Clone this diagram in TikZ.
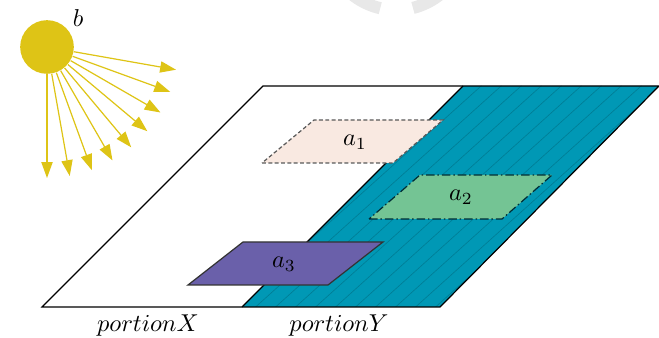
\documentclass[tikz,border=0pt]{standalone}
\usetikzlibrary{arrows.meta}
\definecolor{sunyellow}{RGB}{222,196,22}
\definecolor{teal}{RGB}{0,152,181}
\definecolor{tealdark}{RGB}{0,124,148}
\definecolor{paleone}{RGB}{249,233,225}
\definecolor{greentwo}{RGB}{116,196,148}
\definecolor{purplethree}{RGB}{106,96,170}
\definecolor{wmgrey}{RGB}{232,232,232}
\tikzset{
  sunray/.style={draw=sunyellow, line width=0.5pt, -{Triangle[length=6.5pt,width=4.6pt]}},
  border/.style={draw=black, line width=0.5pt},
  lbl/.style={inner sep=0pt}
}
\begin{document}
\begin{tikzpicture}[x=0.41pt, y=-0.41pt]
\useasboundingbox (0,0) rectangle (659,338);

% faint ring at the top edge
\begin{scope}
  \clip (0,0) rectangle (659,338);
  \draw[wmgrey, line width=5pt] (396,-60) ++(103:70) arc[start angle=103, end angle=150, radius=70];
  \draw[wmgrey, line width=5pt] (396,-60) ++(30:70) arc[start angle=30, end angle=76, radius=70];
\end{scope}

% sun with rays
\node[circle, fill=sunyellow, inner sep=0pt, minimum size=22pt] (sun) at (47,47) {};
\node[lbl] (blabel) at (78,18) {$b$};
\foreach \a in {10,20,...,90} {
  \path (sun.center) ++(\a:131) coordinate (tip\a);
  \draw[sunray] (sun.-\a) -- (tip\a);
}

% plane: right portion filled and hatched
\coordinate (pbl) at (42,307);
\coordinate (pbm) at (242,307);
\coordinate (pbr) at (440,307);
\coordinate (ptl) at (263,86);
\coordinate (ptm) at (463,86);
\coordinate (ptr) at (659,86);
\fill[teal] (pbm) -- (pbr) -- (ptr) -- (ptm) -- cycle;
\begin{scope}
  \clip (pbm) -- (pbr) -- (ptr) -- (ptm) -- cycle;
  \foreach \i in {0,...,36}
    \draw[tealdark, line width=0.25pt] (150+\i*20,330) -- ++(300,-270);
\end{scope}
\draw[border] (pbl) -- (pbr) -- (ptr) -- (ptl) -- cycle;
\draw[border] (pbm) -- (ptm);

\node[lbl] (px) at (148,326) {$portionX$};
\node[lbl] (py) at (339,326) {$portionY$};

% regions
\fill[paleone] (262,163) -- (393,163) -- (443,120) -- (314,120) -- cycle;
\draw[black!65, line width=0.5pt, dash pattern=on 1.6pt off 1pt]
  (262,163) -- (393,163) -- (443,120) -- (314,120) -- cycle;
\node[lbl] (a1) at (355,142) {$a_1$};

\fill[greentwo] (369,219) -- (502,219) -- (552,175) -- (420,175) -- cycle;
\draw[black!70!teal, line width=0.5pt, dash pattern=on 3.5pt off 1.2pt on 0.6pt off 1.2pt]
  (369,219) -- (502,219) -- (552,175) -- (420,175) -- cycle;
\node[lbl] (a2) at (461,197) {$a_2$};

\filldraw[fill=purplethree, draw=black!80, line width=0.5pt]
  (188,285) -- (328,285) -- (383,242) -- (243,242) -- cycle;
\node[lbl] (a3) at (284,264) {$a_3$};
\end{tikzpicture}
\end{document}
